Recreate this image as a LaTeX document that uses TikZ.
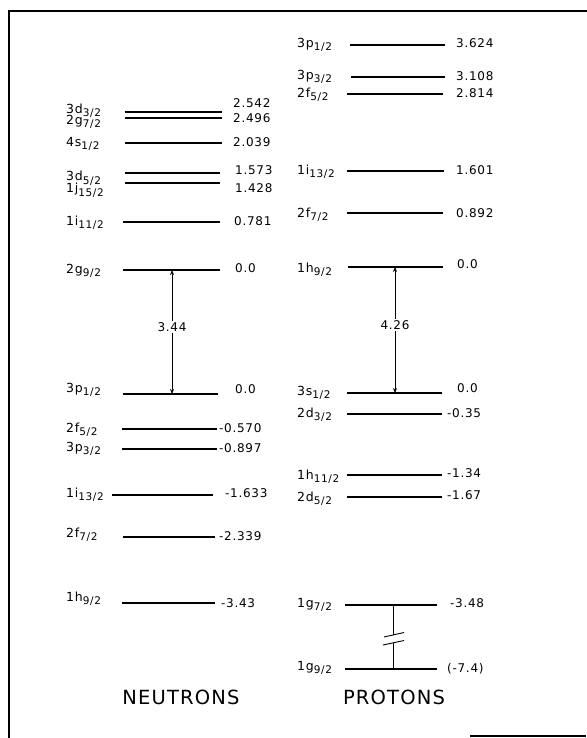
\documentclass[tikz,border=0pt]{standalone}
\usepackage{fontspec}
\setmainfont[LetterSpace=6]{DejaVu Sans}
\usetikzlibrary{arrows.meta}
\newcommand\sbs[1]{\raisebox{-3pt}{\fontsize{10.5}{11}\selectfont #1}}
\newcommand\labx{66}
% name, x1, x2, y, label, label baseline, value, value x, value baseline
\newcommand\lvl[9]{%
  \coordinate (#1-l) at (#2,#4);
  \coordinate (#1-r) at (#3,#4);
  \draw[level] (#1-l) -- (#1-r);
  \node[lab] (#1-t) at (\labx,#6) {#5};
  \node[val] (#1-v) at (#8,#9) {#7};
}
\begin{document}
\begin{tikzpicture}[x=1pt,y=-1pt,
  level/.style={line width=1.3pt},
  lab/.style={anchor=base west,inner sep=0pt,font=\fontsize{12.5}{13}\selectfont},
  val/.style={anchor=base west,inner sep=0pt,font=\fontsize{12}{13}\selectfont},
  dim/.style={line width=1pt,{Stealth[length=5pt,width=4pt]}-{Stealth[length=5pt,width=4pt]}},
  dimlab/.style={fill=white,inner sep=1.5pt,font=\fontsize{12}{13}\selectfont},
  title/.style={inner sep=0pt,font=\fontsize{19.5}{20}\selectfont},
  frame/.style={line width=2.2pt}]
\useasboundingbox (0,0) rectangle (586,738);
% frame
\coordinate (f1) at (586,11);
\coordinate (f2) at (9,11);
\coordinate (f3) at (9,738);
\coordinate (f4) at (470,736);
\coordinate (f5) at (586,736);
\draw[frame,line cap=rect] (f1) -- (f2) -- (f3);
\draw[line width=1.3pt] (f4) -- (f5);
% neutrons
\renewcommand\labx{66}
\lvl{n1}{125}{222}{112}{3d\sbs{3/2}}{113.5}{2.542}{233}{108}
\lvl{n2}{125}{222}{118}{2g\sbs{7/2}}{125}{2.496}{233}{123}
\lvl{n3}{125}{222}{143}{4s\sbs{1/2}}{147}{2.039}{233}{147}
\lvl{n4}{125}{220}{173}{3d\sbs{5/2}}{181}{1.573}{235}{175}
\lvl{n5}{125}{220}{183}{1j\sbs{15/2}}{193}{1.428}{235}{193}
\lvl{n6}{123}{220}{222}{1i\sbs{11/2}}{225}{0.781}{234}{225}
\lvl{n7}{123}{220}{270}{2g\sbs{9/2}}{273}{0.0}{235}{272}
\lvl{n8}{123}{218}{394}{3p\sbs{1/2}}{392}{0.0}{235}{393}
\lvl{n9}{122}{217}{429}{2f\sbs{5/2}}{432}{-0.570}{219}{432}
\lvl{n10}{122}{217}{449}{3p\sbs{3/2}}{451}{-0.897}{219}{452}
\lvl{n11}{112}{213}{495}{1i\sbs{13/2}}{497}{-1.633}{225}{497}
\lvl{n12}{123}{215}{537}{2f\sbs{7/2}}{537}{-2.339}{219}{540}
\lvl{n13}{122}{215}{603}{1h\sbs{9/2}}{601}{-3.43}{221}{607}
% protons
\renewcommand\labx{297}
\lvl{p1}{350}{445}{45}{3p\sbs{1/2}}{48}{3.624}{456}{48}
\lvl{p2}{351}{445}{77}{3p\sbs{3/2}}{80}{3.108}{456}{81}
\lvl{p3}{347}{443}{94}{2f\sbs{5/2}}{98}{2.814}{456}{98}
\lvl{p4}{347}{444}{171}{1i\sbs{13/2}}{175}{1.601}{456}{175}
\lvl{p5}{347}{443}{213}{2f\sbs{7/2}}{217}{0.892}{456}{217}
\lvl{p6}{348}{443}{267}{1h\sbs{9/2}}{272}{0.0}{457}{268}
\lvl{p7}{347}{442}{393}{3s\sbs{1/2}}{395}{0.0}{457}{392}
\lvl{p8}{347}{442}{414}{2d\sbs{3/2}}{417}{-0.35}{447}{417}
\lvl{p9}{347}{442}{475}{1h\sbs{11/2}}{479}{-1.34}{447}{477}
\lvl{p10}{347}{442}{497}{2d\sbs{5/2}}{501}{-1.67}{447}{499}
\lvl{p11}{345}{437}{605}{1g\sbs{7/2}}{607}{-3.48}{450}{607}
\lvl{p12}{345}{437}{669}{1g\sbs{9/2}}{670}{(-7.4)}{447}{672}
% gap arrows
\coordinate (aN1) at (172,270);
\coordinate (aN2) at (172,394);
\draw[dim] (aN1) -- node[dimlab,pos=0.46] (gN) {3.44} (aN2);
\coordinate (aP1) at (395,267);
\coordinate (aP2) at (395,393);
\draw[dim] (aP1) -- node[dimlab,pos=0.46] (gP) {4.26} (aP2);
% broken connector between 1g levels
\coordinate (b1) at (393,605);
\coordinate (b2) at (393,635);
\coordinate (b3) at (393,642.5);
\coordinate (b4) at (393,669);
\coordinate (s1) at (384,637);
\coordinate (s2) at (404,632.5);
\coordinate (s3) at (383,645);
\coordinate (s4) at (404,640.5);
\draw[line width=0.9pt] (b1) -- (b2);
\draw[line width=0.9pt] (b3) -- (b4);
\draw[line width=0.9pt] (s1) -- (s2);
\draw[line width=0.9pt] (s3) -- (s4);
% titles
\node[title] (tN) at (181,697) {NEUTRONS};
\node[title] (tP) at (394,697) {PROTONS};
\end{tikzpicture}
\end{document}
